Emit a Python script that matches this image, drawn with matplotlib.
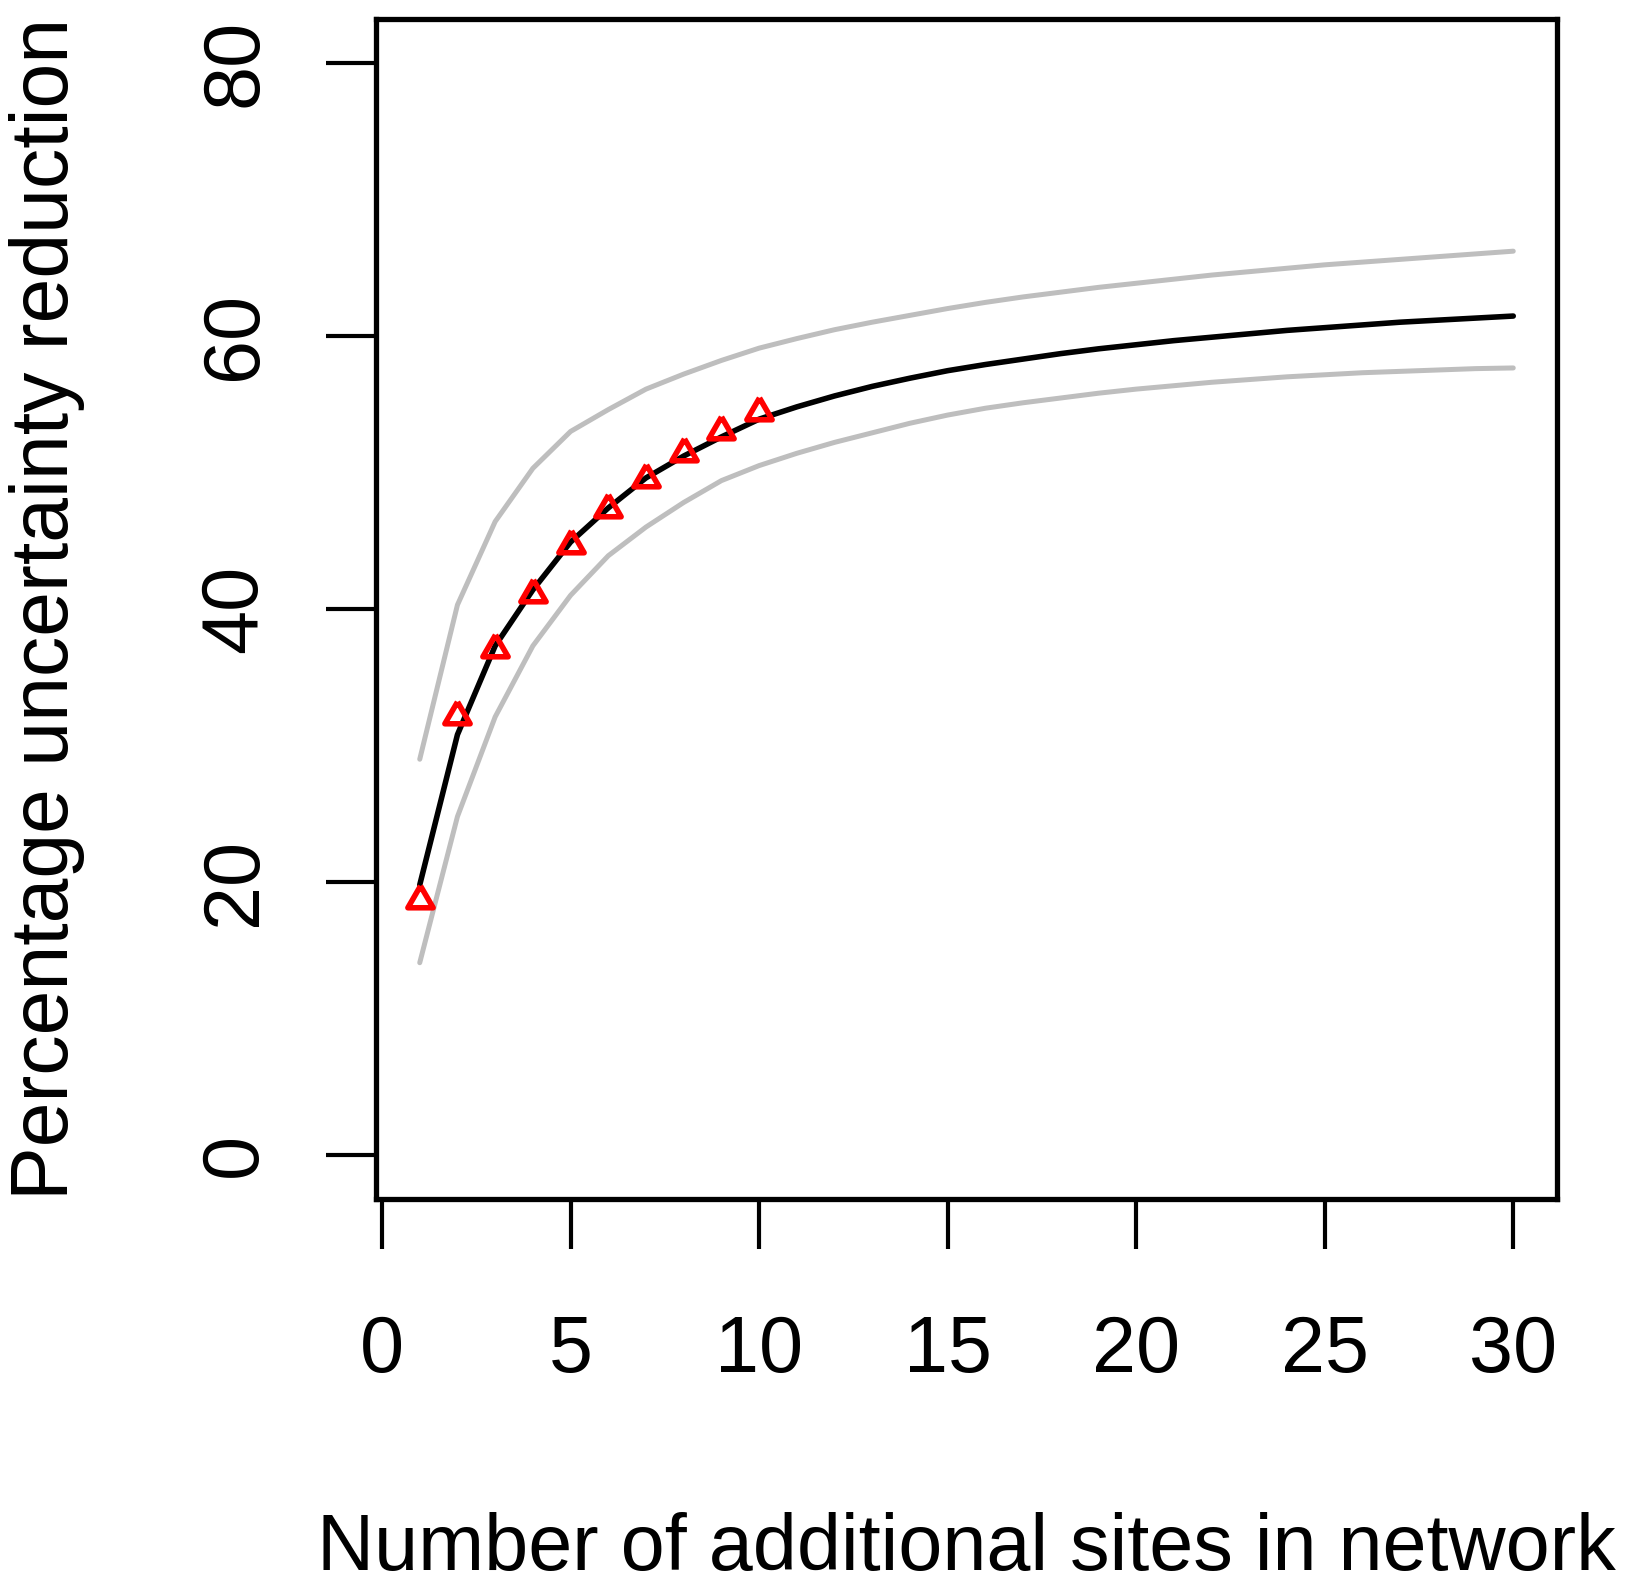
import matplotlib
matplotlib.use("Agg")
import matplotlib.pyplot as plt

plt.rcParams['font.family'] = ['Liberation Sans', 'DejaVu Sans']

# number of additional sites
sites = list(range(1, 31))

# mean percentage uncertainty reduction (black line)
mean_red = [19.8, 30.8, 37.3, 41.4, 44.9, 47.4, 49.6, 51.2, 52.6, 53.9,
            54.8, 55.6, 56.3, 56.9, 57.45, 57.9, 58.3, 58.7, 59.05, 59.35,
            59.65, 59.9, 60.15, 60.4, 60.6, 60.8, 61.0, 61.15, 61.3, 61.45]

# upper and lower bounds (grey lines)
upper_red = [29.0, 40.3, 46.4, 50.3, 53.0, 54.6, 56.1, 57.2, 58.2, 59.1,
             59.8, 60.45, 61.0, 61.5, 62.0, 62.45, 62.85, 63.2, 63.55, 63.85,
             64.15, 64.45, 64.7, 64.95, 65.2, 65.4, 65.6, 65.8, 66.0, 66.2]
lower_red = [14.1, 24.8, 32.1, 37.3, 41.0, 43.9, 46.0, 47.8, 49.4, 50.5,
             51.4, 52.2, 52.9, 53.6, 54.2, 54.7, 55.1, 55.45, 55.8, 56.1,
             56.35, 56.6, 56.8, 57.0, 57.15, 57.3, 57.4, 57.5, 57.6, 57.65]

# observed points (red triangles)
obs_sites = [1, 2, 3, 4, 5, 6, 7, 8, 9, 10]
obs_red = [18.7, 32.2, 37.1, 41.1, 44.7, 47.3, 49.5, 51.4, 53.0, 54.4]

x_ticks = [0, 5, 10, 15, 20, 25, 30]
y_ticks = [0, 20, 40, 60, 80]

fig = plt.figure(figsize=(16.4, 15.82), dpi=100)
ax = fig.add_axes([0.22927, 0.24210, 0.72012, 0.74589])

ax.plot(sites, upper_red, color='#bebebe', lw=3.6, solid_capstyle='round',
        solid_joinstyle='round')
ax.plot(sites, lower_red, color='#bebebe', lw=3.6, solid_capstyle='round',
        solid_joinstyle='round')
ax.plot(sites, mean_red, color='black', lw=4.0, solid_capstyle='round',
        solid_joinstyle='round')

# triangle centred on its centroid, like R's pch=2
tri = [(0, 1), (-0.866, -0.5), (0.866, -0.5), (0, 1)]
ax.plot(obs_sites, obs_red, linestyle='none', marker=tri, markersize=21,
        markerfacecolor='none', markeredgecolor='red', markeredgewidth=4)

ax.set_xlim(-0.16, 31.16)
ax.set_ylim(-3.2, 83.2)
ax.set_xticks(x_ticks)
ax.set_yticks(y_ticks)

for s in ax.spines.values():
    s.set_linewidth(3.8)

ax.tick_params(axis='both', direction='out', length=36, width=3, labelsize=57)
ax.tick_params(axis='x', pad=47)
ax.tick_params(axis='y', pad=38)
for lab in ax.get_yticklabels():
    lab.set_rotation(90)
    lab.set_va('center')

ax.set_xlabel('Number of additional sites in network', fontsize=57, va='baseline')
ax.xaxis.set_label_coords(0.5, -0.3144)
ax.set_ylabel('Percentage uncertainty reduction', fontsize=58, va='baseline')
ax.yaxis.set_label_coords(-0.2608, 0.5)

fig.savefig('out.png', dpi=100)
